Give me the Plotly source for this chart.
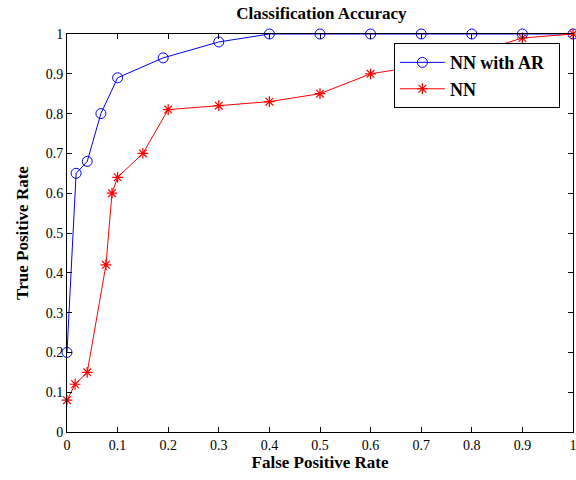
import plotly.graph_objects as go

fpr_ar = [0, 0.018, 0.04, 0.067, 0.1, 0.19, 0.3, 0.4, 0.5, 0.6, 0.7, 0.8, 0.9, 1.0]
tpr_ar = [0.2, 0.65, 0.68, 0.8, 0.89, 0.94, 0.98, 1.0, 1.0, 1.0, 1.0, 1.0, 1.0, 1.0]

fpr_nn = [0, 0.016, 0.04, 0.077, 0.089, 0.1, 0.15, 0.2, 0.3, 0.4, 0.5, 0.6, 0.7, 0.8, 0.9, 1.0]
tpr_nn = [0.08, 0.12, 0.15, 0.42, 0.6, 0.64, 0.7, 0.81, 0.82, 0.83, 0.85, 0.9, 0.92, 0.95, 0.99, 1.0]

serif = "Liberation Serif, Times New Roman, serif"

fig = go.Figure()
fig.add_trace(go.Scatter(
    x=fpr_ar, y=tpr_ar, mode="lines+markers", name="<b>NN with AR</b>\u00a0\u00a0",
    line=dict(color="#0000ff", width=1),
    marker=dict(symbol="circle-open", size=10, color="#0000ff", line=dict(width=1)),
    cliponaxis=False,
))
fig.add_trace(go.Scatter(
    x=fpr_nn, y=tpr_nn, mode="lines+markers", name="<b>NN</b>",
    line=dict(color="#ff0000", width=1),
    marker=dict(symbol="asterisk-open", size=9, color="#ff0000", line=dict(width=1.2, color="#ff0000")),
    cliponaxis=False,
))

axis_common = dict(
    range=[0, 1], dtick=0.1, tick0=0, showgrid=False, zeroline=False,
    showline=True, linecolor="black", linewidth=1, mirror="ticks",
    ticks="inside", ticklen=5, tickcolor="black", automargin=False,
    ticklabeloverflow="allow",
    tickfont=dict(family=serif, size=14, color="black"),
)

fig.update_layout(
    width=576, height=480,
    margin=dict(l=67, r=3, t=34, b=48),
    paper_bgcolor="white", plot_bgcolor="white",
    title=dict(text="<b>Classification Accuracy</b>", x=0.558, xanchor="center", y=0.985, yanchor="top",
               font=dict(family=serif, size=17, color="black")),
    xaxis=dict(axis_common, title=dict(text="<b>False Positive Rate</b>", standoff=4,
                                        font=dict(family=serif, size=17, color="black"))),
    yaxis=dict(axis_common, title=dict(text="<b>True Positive Rate</b>", standoff=12,
                                        font=dict(family=serif, size=17, color="black"))),
    legend=dict(x=0.646, y=0.977, xanchor="left", yanchor="top",
                bgcolor="white", bordercolor="black", borderwidth=1,
                font=dict(family=serif, size=18, color="black"),
                itemwidth=45, tracegroupgap=0),
    showlegend=True,
)

fig.write_html("out.html", config={"displayModeBar": False},
               post_script="document.body.style.margin='0px';document.body.style.overflow='hidden';")
